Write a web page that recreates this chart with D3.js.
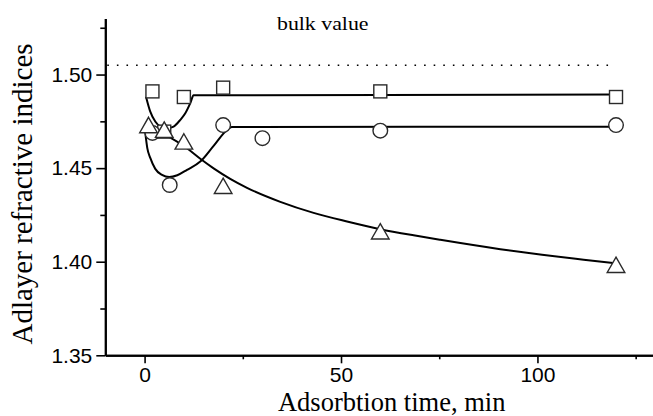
<!DOCTYPE html>
<html>
<head>
<meta charset="utf-8">
<script src="https://cdn.jsdelivr.net/npm/d3@7"></script>
<style>
  body { margin: 0; background: #fff; }
  .tick text { font-family: "Liberation Sans", Arial, sans-serif; font-size: 21px; fill: #000; }
  .axisTitle { font-family: "Liberation Serif", "Times New Roman", serif; fill: #000; }
</style>
</head>
<body>
<div id="chart"></div>
<script>
// tick values
var xTicks = [0, 50, 100];
var xMinor = [25, 75, 125];
var yTicks = [1.35, 1.40, 1.45, 1.50];
var yMinor = [1.375, 1.425, 1.475, 1.525];
var bulkValue = 1.505;

// measured points (squares, circles, triangles)
var sqTime = [2, 5, 10, 20, 60, 120];
var sqIndex = [1.491, 1.4695, 1.488, 1.493, 1.491, 1.488];
var ciTime = [2, 6.4, 20, 30, 60, 120];
var ciIndex = [1.4688, 1.441, 1.473, 1.466, 1.470, 1.473];
var trTime = [1, 5, 10, 20, 60, 120];
var trIndex = [1.473, 1.4705, 1.4642, 1.4405, 1.4162, 1.3983];

// fitted curves
var sqFitTime = [0.36, 1.45, 2.72, 4.0, 5.7, 7.38, 9.09, 10.36, 11.63, 12.47, 120];
var sqFitIndex = [1.4882, 1.4802, 1.4749, 1.4722, 1.4713, 1.4722, 1.4758, 1.4793, 1.4847, 1.4889, 1.4893];
var ciFitTime = [0.18, 0.69, 1.45, 2.72, 4.43, 6.29, 8.32, 10.8, 14.18, 17.57, 20.98, 22.2, 120];
var ciFitIndex = [1.4688, 1.4607, 1.4555, 1.4496, 1.4464, 1.4452, 1.4462, 1.4491, 1.4535, 1.4619, 1.4704, 1.4720, 1.4721];
var trFitTime = [1.02, 2.29, 6.54, 10.79, 14.18, 17.57, 21.8, 26.07, 34.55, 43.02, 51.53, 60.0, 68.48, 75.28, 90.56, 101.17, 111.76, 119.83];
var trFitIndex = [1.4715, 1.4702, 1.4663, 1.4606, 1.4550, 1.4499, 1.4443, 1.4395, 1.4320, 1.4261, 1.4215, 1.4174, 1.4141, 1.4117, 1.4067, 1.4037, 1.4011, 1.3992];

var svgWidth = 653;
var svgHeight = 416;
var margin = { top: 18.4, left: 105.3 };
var width = 550;
var height = 336.9;

var svg = d3.select("#chart")
  .append("svg")
  .attr("width", svgWidth)
  .attr("height", svgHeight);

var chartGroup = svg.append("g")
  .attr("transform", `translate(${margin.left}, ${margin.top})`);

var x = d3.scaleLinear().domain([-10, 130]).range([0, width]);
var y = d3.scaleLinear().domain([1.35, 1.53]).range([height, 0]);

function zip(xs, ys) {
  return xs.map((t, i) => ({ t: t, v: ys[i] }));
}

// bulk value dotted line
chartGroup.append("line")
  .attr("x1", x(-9.5)).attr("x2", x(119.5))
  .attr("y1", y(bulkValue)).attr("y2", y(bulkValue))
  .attr("stroke", "#000")
  .attr("stroke-width", 1.6)
  .attr("stroke-dasharray", "1.6,8");

svg.append("text")
  .attr("class", "axisTitle")
  .attr("transform", "translate(277, 29.5) scale(1.18, 1)")
  .style("font-size", "18.5px")
  .text("bulk value");

// fitted curves
var line = d3.line()
  .x(d => x(d.t))
  .y(d => y(d.v))
  .curve(d3.curveMonotoneX);

[zip(sqFitTime, sqFitIndex), zip(ciFitTime, ciFitIndex), zip(trFitTime, trFitIndex)].forEach(function(c) {
  chartGroup.append("path")
    .datum(c)
    .attr("d", line)
    .attr("fill", "none")
    .attr("stroke", "#000")
    .attr("stroke-width", 2);
});

// symbols
var symStroke = "#2a2a2a";

chartGroup.selectAll("rect.sq")
  .data(zip(sqTime, sqIndex))
  .enter()
  .append("rect")
  .attr("x", d => x(d.t) - 6.5)
  .attr("y", d => y(d.v) - 6.5)
  .attr("width", 13)
  .attr("height", 13)
  .attr("fill", "#fff")
  .attr("stroke", symStroke)
  .attr("stroke-width", 1.4);

chartGroup.selectAll("circle.ci")
  .data(zip(ciTime, ciIndex))
  .enter()
  .append("circle")
  .attr("cx", d => x(d.t))
  .attr("cy", d => y(d.v))
  .attr("r", 7.3)
  .attr("fill", "#fff")
  .attr("stroke", symStroke)
  .attr("stroke-width", 1.4);

chartGroup.selectAll("path.tr")
  .data(zip(trTime, trIndex))
  .enter()
  .append("path")
  .attr("d", d => {
    var cx = x(d.t), cy = y(d.v);
    return `M${cx},${cy - 7.8}L${cx + 8.8},${cy + 7.6}L${cx - 8.8},${cy + 7.6}Z`;
  })
  .attr("fill", "#fff")
  .attr("stroke", symStroke)
  .attr("stroke-width", 1.4);

// axes
var bottomAxis = d3.axisBottom(x).tickValues(xTicks).tickFormat(d3.format("d"))
  .tickSizeInner(8).tickSizeOuter(0).tickPadding(4);
var bottomMinor = d3.axisBottom(x).tickValues(xMinor).tickFormat("")
  .tickSizeInner(4).tickSizeOuter(0);
var leftAxis = d3.axisLeft(y).tickValues(yTicks).tickFormat(d3.format(".2f"))
  .tickSizeInner(9).tickSizeOuter(0).tickPadding(4);
var leftMinor = d3.axisLeft(y).tickValues(yMinor).tickFormat("")
  .tickSizeInner(5).tickSizeOuter(0);

var xg = chartGroup.append("g").attr("transform", `translate(0, ${height})`).call(bottomAxis);
chartGroup.append("g").attr("transform", `translate(0, ${height})`).call(bottomMinor);
var yg = chartGroup.append("g").call(leftAxis);
chartGroup.append("g").call(leftMinor);

chartGroup.selectAll(".domain").attr("stroke", "#000").attr("stroke-width", 2);
chartGroup.selectAll(".tick line").attr("stroke", "#000").attr("stroke-width", 1.6);
xg.selectAll(".tick text").attr("dy", "0.72em");

// axis titles
svg.append("text")
  .attr("class", "axisTitle")
  .attr("x", 391.7)
  .attr("y", 410.8)
  .attr("text-anchor", "middle")
  .style("font-size", "26.5px")
  .text("Adsorbtion time, min");

svg.append("text")
  .attr("class", "axisTitle")
  .attr("transform", "translate(32, 194) rotate(-90)")
  .attr("text-anchor", "middle")
  .style("font-size", "29px")
  .text("Adlayer refractive indices");
</script>
</body>
</html>
